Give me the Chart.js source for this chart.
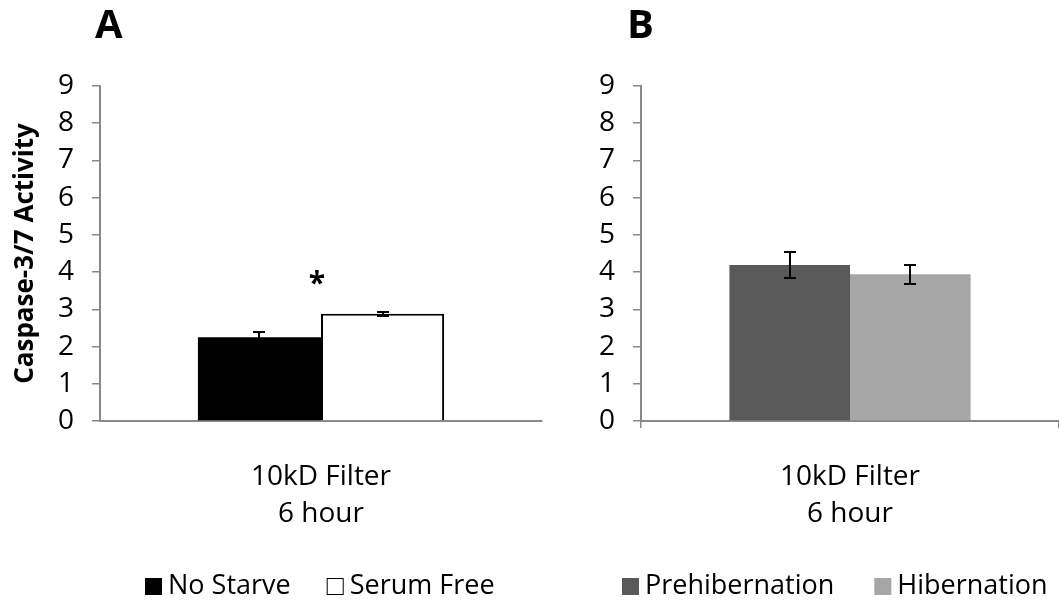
<!DOCTYPE html>
<html>
<head>
<meta charset="utf-8">
<script src="https://cdn.jsdelivr.net/npm/chart.js@4.4.1/dist/chart.umd.min.js"></script>
<style>
  html, body { margin: 0; padding: 0; background: #fff; }
  #wrap { position: relative; width: 1059px; height: 601px; }
  #panelA { position: absolute; left: 0; top: 0; width: 560px; height: 601px; }
  #panelB { position: absolute; left: 560px; top: 0; width: 499px; height: 601px; }
</style>
</head>
<body>
<div id="wrap">
  <div id="panelA"><canvas id="chartA"></canvas></div>
  <div id="panelB"><canvas id="chartB"></canvas></div>
</div>
<script>
// Data
const categories = [['10kD Filter', '6 hour']];
const yMin = 0, yMax = 9, yStep = 1;

const seriesA = ['No Starve', 'Serum Free'];
const valuesA = [2.25, 2.88];
const errorsA = [0.15, 0.05];
const starA = '*';
const starLevelA = 3.85;

const seriesB = ['Prehibernation', 'Hibernation'];
const valuesB = [4.19, 3.94];
const errorsB = [0.34, 0.25];

const FONT = "'Open Sans', sans-serif";
const AXIS_GREY = '#898989';

// error bars drawn on top of each bar
const errorBars = {
  id: 'errorBars',
  afterDatasetsDraw(chart) {
    const { ctx } = chart;
    const y = chart.scales.y;
    ctx.save();
    ctx.strokeStyle = '#000';
    ctx.lineWidth = 2;
    chart.data.datasets.forEach((ds, i) => {
      const meta = chart.getDatasetMeta(i);
      meta.data.forEach((bar, j) => {
        const v = ds.data[j], e = ds.errors[j];
        const top = Math.round(y.getPixelForValue(v + e));
        const bot = Math.round(y.getPixelForValue(v - e));
        const x = Math.round(bar.x);
        ctx.beginPath();
        ctx.moveTo(x, top); ctx.lineTo(x, bot);
        ctx.moveTo(x - 6, top); ctx.lineTo(x + 6, top);
        ctx.moveTo(x - 6, bot); ctx.lineTo(x + 6, bot);
        ctx.stroke();
      });
    });
    ctx.restore();
  }
};

// panel letter, significance star and legend keys
const decorations = {
  id: 'decorations',
  afterDraw(chart, args, opts) {
    const { ctx } = chart;
    ctx.save();
    ctx.fillStyle = '#000';
    ctx.font = 'bold 40px ' + FONT;
    ctx.textAlign = 'left';
    ctx.textBaseline = 'alphabetic';
    ctx.fillText(opts.letter, opts.letterX, 38);

    if (opts.star) {
      const x = chart.scales.x.getPixelForValue(0);
      const y = chart.scales.y.getPixelForValue(opts.starLevel);
      ctx.font = 'bold 30px ' + FONT;
      ctx.textAlign = 'center';
      ctx.textBaseline = 'middle';
      ctx.fillText(opts.star, x - 4, y + 7);
    }

    // legend
    ctx.font = '27px ' + FONT;
    ctx.textAlign = 'left';
    ctx.textBaseline = 'middle';
    let lx = opts.legendX;
    const ly = 586;
    chart.data.datasets.forEach((ds) => {
      ctx.fillStyle = ds.backgroundColor;
      ctx.fillRect(lx, ly - 8, 17, 17);
      if (ds.borderWidth) {
        ctx.strokeStyle = '#000';
        ctx.lineWidth = 1;
        ctx.strokeRect(lx + 0.5, ly - 7.5, 16, 16);
      }
      ctx.fillStyle = '#000';
      ctx.fillText(ds.label, lx + 23, ly);
      lx += 23 + ctx.measureText(ds.label).width + opts.legendGap;
    });
    ctx.restore();
  }
};

function makeChart(id, labels, values, errors, colors, borders, o) {
  return new Chart(document.getElementById(id), {
    type: 'bar',
    data: {
      labels: categories,
      datasets: labels.map((label, i) => ({
        label: label,
        data: [values[i]],
        errors: [errors[i]],
        backgroundColor: colors[i],
        borderColor: '#000',
        borderWidth: borders[i],
        borderSkipped: 'bottom',
        categoryPercentage: o.catPct,
        barPercentage: 1
      }))
    },
    options: {
      responsive: true,
      maintainAspectRatio: false,
      animation: false,
      devicePixelRatio: 1,
      layout: { padding: { top: 86, right: o.padRight, left: 0, bottom: 0 } },
      plugins: {
        legend: { display: false },
        tooltip: { enabled: false },
        decorations: o.deco
      },
      scales: {
        x: {
          afterFit: (s) => { s.height = 180; },
          grid: { drawOnChartArea: false, drawTicks: o.xTicks, tickLength: 7, color: AXIS_GREY, lineWidth: 1.5 },
          border: { display: true, color: AXIS_GREY, width: 2 },
          ticks: { color: '#000', font: { family: FONT, size: 28, lineHeight: 1.33 }, padding: o.xTicks ? 30 : 37 }
        },
        y: {
          min: yMin,
          max: yMax,
          afterFit: (s) => { s.width = o.yWidth; },
          grid: { drawOnChartArea: false, tickLength: 8, color: AXIS_GREY, lineWidth: 1.5 },
          border: { display: true, color: AXIS_GREY, width: 2 },
          ticks: { stepSize: yStep, color: '#000', font: { family: FONT, size: 28 }, padding: 18 },
          title: {
            display: !!o.yTitle,
            text: o.yTitle || '',
            color: '#000',
            font: { family: FONT, size: 26, weight: 'bold' },
            padding: { top: 10, bottom: 0 }
          }
        }
      }
    },
    plugins: [errorBars, decorations]
  });
}

makeChart('chartA', seriesA, valuesA, errorsA, ['#000000', '#ffffff'], [0, 2], {
  catPct: 0.557, padRight: 18, yWidth: 100, xTicks: false,
  yTitle: 'Caspase-3/7 Activity',
  deco: { letter: 'A', letterX: 95, star: starA, starLevel: starLevelA, legendX: 145, legendGap: 36 }
});

makeChart('chartB', seriesB, valuesB, errorsB, ['#595959', '#a6a6a6'], [0, 0], {
  catPct: 0.577, padRight: 0, yWidth: 81, xTicks: true,
  deco: { letter: 'B', letterX: 67, star: null, legendX: 62, legendGap: 40 }
});
</script>
</body>
</html>
